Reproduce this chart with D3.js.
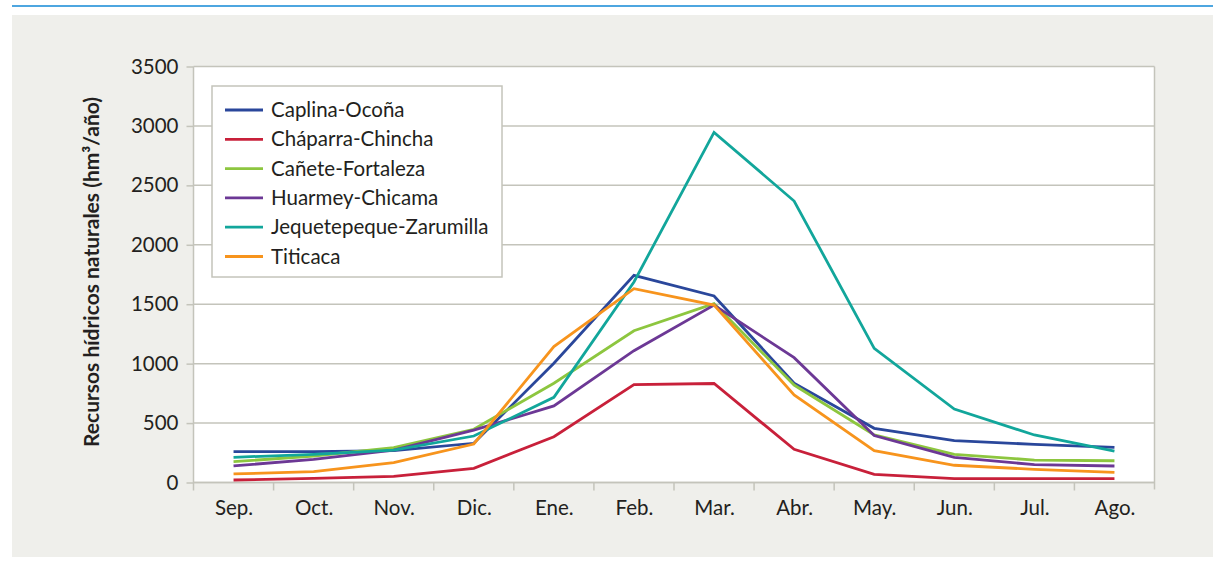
<!DOCTYPE html>
<html>
<head>
<meta charset="utf-8">
<script src="https://cdn.jsdelivr.net/npm/d3@7"></script>
<style>
  html, body { margin: 0; padding: 0; background: #ffffff; }
  svg { display: block; }
  text { font-family: Lato, "Open Sans", sans-serif; fill: #231f20; }
</style>
</head>
<body>
<svg id="chart" width="1213" height="561"></svg>
<script>
const months = ["Sep.", "Oct.", "Nov.", "Dic.", "Ene.", "Feb.", "Mar.", "Abr.", "May.", "Jun.", "Jul.", "Ago."];
const yTicks = [0, 500, 1000, 1500, 2000, 2500, 3000, 3500];

const seriesNames = ["Caplina-Ocoña", "Cháparra-Chincha", "Cañete-Fortaleza", "Huarmey-Chicama", "Jequetepeque-Zarumilla", "Titicaca"];
const seriesColors = ["#2a479b", "#c8203a", "#8dc63f", "#6c3895", "#12a69b", "#f7941d"];

const caplinaOcona        = [259, 259, 268, 330, 1003, 1743, 1569, 835, 456, 352, 321, 296];
const chaparraChincha     = [21, 35, 52, 119, 385, 823, 833, 279, 69, 32, 32, 32];
const caneteFortaleza     = [175, 223, 293, 448, 835, 1277, 1505, 820, 400, 237, 189, 183];
const huarmeyChicama      = [139, 195, 273, 440, 644, 1109, 1493, 1050, 395, 212, 150, 139];
const jequetepequeZarum   = [212, 237, 273, 391, 717, 1687, 2946, 2368, 1129, 618, 400, 265];
const titicaca            = [72, 91, 167, 324, 1143, 1631, 1493, 736, 268, 145, 111, 86];

const seriesValues = [caplinaOcona, chaparraChincha, caneteFortaleza, huarmeyChicama, jequetepequeZarum, titicaca];

const svg = d3.select("#chart");
const FONT = "Lato, 'Open Sans', sans-serif";

// top blue rule
svg.append("rect").attr("x", 12).attr("y", 5).attr("width", 1201).attr("height", 2).attr("fill", "#4ea6e0");
// panel background
svg.append("rect").attr("x", 12).attr("y", 15).attr("width", 1201).attr("height", 542).attr("fill", "#efefeb");

const pLeft = 193.5, pRight = 1154.5, pTop = 66.5, pBottom = 482.5;

const x = d3.scalePoint().domain(months).range([pLeft, pRight]).padding(0.5);
const xBand = d3.scaleBand().domain(months).range([pLeft, pRight]);
const y = d3.scaleLinear().domain([0, 3500]).range([pBottom, pTop]);

const gridColor = "#c4c4bb";

// plot area
svg.append("rect").attr("x", pLeft).attr("y", pTop).attr("width", pRight - pLeft).attr("height", pBottom - pTop).attr("fill", "#ffffff");

// gridlines
svg.append("g").selectAll("line").data(yTicks).join("line")
  .attr("x1", pLeft).attr("x2", pRight)
  .attr("y1", d => y(d)).attr("y2", d => y(d))
  .attr("stroke", gridColor).attr("stroke-width", 1.5);

// right border
svg.append("line").attr("x1", pRight).attr("x2", pRight).attr("y1", pTop).attr("y2", pBottom + 7)
  .attr("stroke", gridColor).attr("stroke-width", 1.5);

// y axis
const yAxis = svg.append("g").attr("transform", `translate(${pLeft},0)`)
  .call(d3.axisLeft(y).tickValues(yTicks).tickSize(7).tickPadding(8).tickFormat(d3.format("d")));
yAxis.select(".domain").remove();
yAxis.selectAll(".tick line").attr("stroke", gridColor).attr("stroke-width", 1.5);
yAxis.selectAll(".tick text").attr("font-size", 20.5).attr("font-family", FONT).attr("fill", "#231f20");
svg.append("line").attr("x1", pLeft).attr("x2", pLeft).attr("y1", pTop).attr("y2", pBottom + 8)
  .attr("stroke", gridColor).attr("stroke-width", 1.5);

// x axis
const xAxis = svg.append("g").attr("transform", `translate(0,${pBottom})`)
  .call(d3.axisBottom(x).tickSize(0).tickPadding(18));
xAxis.select(".domain").remove();
xAxis.selectAll(".tick text").attr("font-size", 20.5).attr("font-family", FONT).attr("fill", "#231f20");
// x ticks between categories
svg.append("g").selectAll("line").data(months.slice(1)).join("line")
  .attr("x1", d => xBand(d)).attr("x2", d => xBand(d))
  .attr("y1", pBottom).attr("y2", pBottom + 8)
  .attr("stroke", gridColor).attr("stroke-width", 1.5);
svg.append("line").attr("x1", pLeft).attr("x2", pRight).attr("y1", pBottom).attr("y2", pBottom)
  .attr("stroke", gridColor).attr("stroke-width", 1.5);

// lines
const line = d3.line().x((d, i) => x(months[i])).y(d => y(d));
svg.append("g").selectAll("path").data(seriesValues).join("path")
  .attr("d", d => line(d))
  .attr("fill", "none")
  .attr("stroke", (d, i) => seriesColors[i])
  .attr("stroke-width", 2.8)
  .attr("stroke-linejoin", "miter");

// y title
svg.append("text")
  .attr("transform", `translate(99,272) rotate(-90)`)
  .attr("text-anchor", "middle")
  .attr("font-size", 21).attr("font-weight", "bold")
  .text("Recursos hídricos naturales (hm³/año)");

// legend
const lg = svg.append("g");
lg.append("rect").attr("x", 212).attr("y", 86).attr("width", 290).attr("height", 191)
  .attr("fill", "#ffffff").attr("stroke", gridColor).attr("stroke-width", 1.5);
const rows = lg.selectAll("g").data(seriesNames).join("g")
  .attr("transform", (d, i) => `translate(0,${110 + i * 29.3})`);
rows.append("line").attr("x1", 225).attr("x2", 263).attr("y1", 0).attr("y2", 0)
  .attr("stroke", (d, i) => seriesColors[i]).attr("stroke-width", 2.8);
rows.append("text").attr("x", 271).attr("y", 0).attr("dy", "0.35em")
  .attr("font-size", 20.5).text(d => d);
</script>
</body>
</html>
